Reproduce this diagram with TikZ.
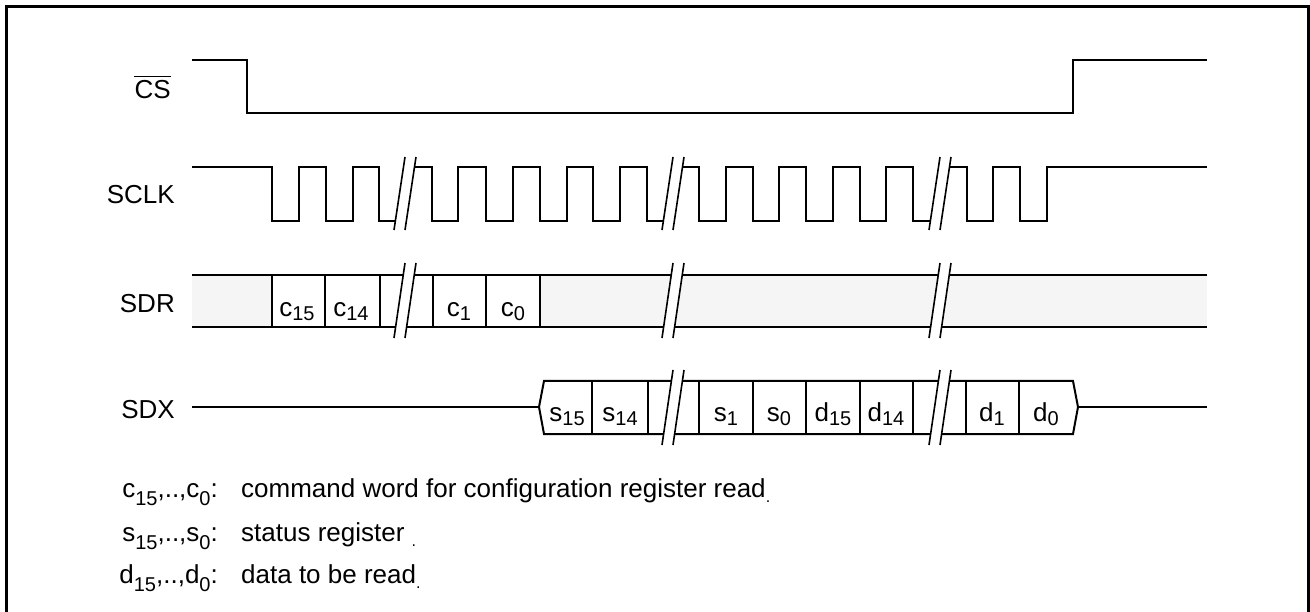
\documentclass[tikz,border=0pt]{standalone}
\usepackage{fontspec}
\setmainfont{Liberation Sans}
\definecolor{bandgray}{RGB}{245,245,245}
\newcommand\csub[1]{\raisebox{-4pt}{\fontsize{20}{20}\selectfont #1}}
\newcommand\lsub[1]{\raisebox{-8pt}{\fontsize{20}{20}\selectfont #1}}
\newcommand\lowdot{\raisebox{-5pt}{\fontsize{16}{16}\selectfont .}}
\newcommand\tbreak[3]{%
  \fill[white] (#1,#3) -- (#1+11,#2) -- (#1+22,#2) -- (#1+11,#3) -- cycle;
  \draw[brkline] (#1,#3) -- (#1+11,#2) (#1+11,#3) -- (#1+22,#2);}
\begin{document}
\begin{tikzpicture}[x=1pt,y=-1pt,
  sig/.style={line width=2pt, line join=miter},
  brkline/.style={line width=1.6pt},
  txt/.style={inner sep=0pt, font=\fontsize{26}{30}\selectfont},
  lbl/.style={txt, anchor=base east},
  cell/.style={txt, anchor=base},
  leg/.style={txt, anchor=base west},
]
\useasboundingbox (0,0) rectangle (1310,612);
\fill[white] (0,0) rectangle (1310,612);
\draw[line width=3pt] (6,612) -- (6,7) -- (1308,7) -- (1308,612);

% labels
\node[lbl] (cs) at (171,99) {CS};
\draw[line width=1.6pt] ([yshift=4pt]cs.north west) -- ([yshift=4pt]cs.north east);
\node[lbl] (sclk) at (175,204) {SCLK};
\node[lbl] (sdr) at (175,313) {SDR};
\node[lbl] (sdx) at (175,418) {SDX};

% CS
\draw[sig] (192,60) -- (247,60) -- (247,113) -- (1073,113) -- (1073,60) -- (1207,60);

% SCLK
\draw[sig] (192,167) -- (272,167) -- (272,221) -- (299,221) -- (299,167)
  -- (326,167) -- (326,221) -- (353,221) -- (353,167)
  -- (379,167) -- (379,221) -- (405,221) -- (405,167)
  -- (432,167) -- (432,221) -- (458,221) -- (458,167)
  -- (486,167) -- (486,221) -- (513,221) -- (513,167)
  -- (540,167) -- (540,221) -- (567,221) -- (567,167)
  -- (593,167) -- (593,221) -- (620,221) -- (620,167)
  -- (647,167) -- (647,221) -- (673,221) -- (673,167)
  -- (699,167) -- (699,221) -- (726,221) -- (726,167)
  -- (753,167) -- (753,221) -- (779,221) -- (779,167)
  -- (806,167) -- (806,221) -- (833,221) -- (833,167)
  -- (860,167) -- (860,221) -- (886,221) -- (886,167)
  -- (913,167) -- (913,221) -- (940,221) -- (940,167)
  -- (967,167) -- (967,221) -- (993,221) -- (993,167)
  -- (1020,167) -- (1020,221) -- (1047,221) -- (1047,167) -- (1207,167);
\foreach \bx in {394,662,929} {\tbreak{\bx}{157}{230}}

% SDR
\fill[bandgray] (192,275) rectangle (1207,327);
\fill[white] (272,275) rectangle (540,327);
\draw[sig] (192,275) -- (1207,275) (192,327) -- (1207,327);
\foreach \vx in {272,325,380,433,486,540} {\draw[sig] (\vx,275) -- (\vx,327);}
\foreach \bx in {394,662,929} {\tbreak{\bx}{263}{338}}
\node[cell] (c15) at (297,317) {c\csub{15}};
\node[cell] (c14) at (351,317) {c\csub{14}};
\node[cell] (c1) at (459,317) {c\csub{1}};
\node[cell] (c0) at (513,317) {c\csub{0}};

% SDX
\draw[sig] (192,407) -- (539,407) (1078,407) -- (1207,407);
\draw[sig, fill=white] (539,407) -- (544,381) -- (1073,381) -- (1078,407) -- (1073,434) -- (544,434) -- cycle;
\foreach \vx in {592,648,699,753,806,860,913,966,1019} {\draw[sig] (\vx,381) -- (\vx,434);}
\foreach \bx in {662,929} {\tbreak{\bx}{370}{445}}
\node[cell] (s15) at (567,421) {s\csub{15}};
\node[cell] (s14) at (620,421) {s\csub{14}};
\node[cell] (s1) at (726,421) {s\csub{1}};
\node[cell] (s0) at (779,421) {s\csub{0}};
\node[cell] (d15) at (833,421) {d\csub{15}};
\node[cell] (d14) at (886,421) {d\csub{14}};
\node[cell] (d1) at (992,421) {d\csub{1}};
\node[cell] (d0) at (1046,421) {d\csub{0}};

% legend
\node[lbl] (k1) at (218,497) {c\lsub{15},..,c\lsub{0}:};
\node[leg] (t1) at (241,497) {command word for configuration register read\lowdot};
\node[lbl] (k2) at (218,541) {s\lsub{15},..,s\lsub{0}:};
\node[leg] (t2) at (241,541) {status register \lowdot};
\node[lbl] (k3) at (218,583) {d\lsub{15},..,d\lsub{0}:};
\node[leg] (t3) at (241,583) {data to be read\lowdot};
\end{tikzpicture}
\end{document}
